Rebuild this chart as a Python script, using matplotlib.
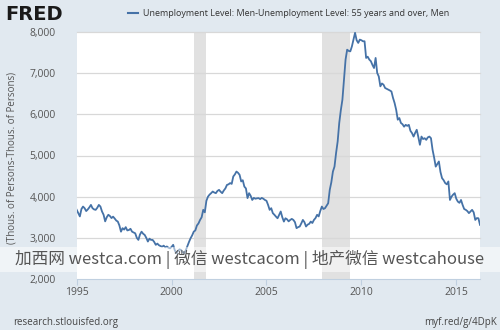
import matplotlib
matplotlib.use("Agg")
import matplotlib.pyplot as plt
import numpy as np

start_year = 1995
values = (
    [3680, 3600, 3520, 3700, 3760, 3720, 3650, 3690, 3740, 3800, 3720, 3690] +  # 1995
    [3680, 3730, 3800, 3760, 3640, 3560, 3400, 3500, 3560, 3530, 3480, 3515] +  # 1996
    [3470, 3420, 3395, 3300, 3150, 3235, 3200, 3260, 3180, 3190, 3220, 3150] +  # 1997
    [3130, 3110, 3000, 2950, 3080, 3150, 3100, 3070, 3000, 2910, 2980, 2950] +  # 1998
    [2950, 2900, 2830, 2860, 2820, 2800, 2785, 2810, 2770, 2790, 2760, 2745] +  # 1999
    [2780, 2830, 2700, 2625, 2680, 2720, 2705, 2650, 2625, 2700, 2800, 2900] +  # 2000
    [2990, 3060, 3150, 3180, 3300, 3350, 3435, 3500, 3680, 3620, 3900, 4000] +  # 2001
    [4050, 4085, 4125, 4100, 4085, 4140, 4165, 4120, 4085, 4150, 4200, 4285] +  # 2002
    [4300, 4330, 4310, 4490, 4540, 4610, 4580, 4530, 4370, 4400, 4245, 4200] +  # 2003
    [3965, 4085, 4020, 3920, 3970, 3950, 3960, 3965, 3940, 3970, 3950, 3920] +  # 2004
    [3900, 3800, 3680, 3720, 3600, 3560, 3515, 3475, 3560, 3640, 3500, 3395] +  # 2005
    [3475, 3450, 3400, 3435, 3460, 3435, 3380, 3235, 3260, 3275, 3350, 3435] +  # 2006
    [3380, 3275, 3320, 3340, 3395, 3360, 3435, 3480, 3560, 3520, 3650, 3760] +  # 2007
    [3700, 3720, 3780, 3840, 4165, 4350, 4610, 4730, 5060, 5340, 5790, 6100] +  # 2008
    [6355, 6840, 7330, 7570, 7540, 7530, 7650, 7815, 7980, 7800, 7735, 7815] +  # 2009
    [7800, 7775, 7775, 7370, 7400, 7330, 7290, 7200, 7125, 7370, 7005, 6920] +  # 2010
    [6680, 6750, 6720, 6640, 6620, 6600, 6580, 6555, 6400, 6275, 6110, 5870] +  # 2011
    [5910, 5790, 5760, 5700, 5745, 5720, 5745, 5600, 5545, 5460, 5550, 5625] +  # 2012
    [5450, 5260, 5460, 5400, 5420, 5380, 5440, 5460, 5420, 5140, 4950, 4730] +  # 2013
    [4790, 4855, 4600, 4450, 4400, 4330, 4300, 4370, 3920, 4000, 4050, 4085] +  # 2014
    [3950, 3880, 3850, 3920, 3800, 3700, 3680, 3650, 3600, 3640, 3680, 3620] +  # 2015
    [3435, 3480, 3475, 3315]                                                    # 2016
)
recessions = [(2001 + 2/12, 2001 + 10/12), (2007 + 11/12, 2009 + 5/12)]
xticks = [1995, 2000, 2005, 2010, 2015]
yticks = [2000, 3000, 4000, 5000, 6000, 7000, 8000]
title = "Unemployment Level: Men-Unemployment Level: 55 years and over, Men"
ylabel = "(Thous. of Persons-Thous. of Persons)"
watermark = "加西网 westca.com | 微信 westcacom | 地产微信 westcahouse"

dates = start_year + np.arange(len(values)) / 12.0

bg = "#e1e9f0"
fig = plt.figure(figsize=(5, 3.3), dpi=100, facecolor=bg)
ax = fig.add_axes([76.7/500, 1-279/330, (480-76.7)/500, (279-32)/330])
ax.set_facecolor("white")

for a, b in recessions:
    ax.axvspan(a, b, color="#e1e1e1", lw=0, zorder=1)
for y in yticks[1:]:
    ax.axhline(y, color="#d8d8d8", lw=0.9, zorder=1.5, clip_on=False)

ax.plot(dates, values, color="#4572a7", lw=1.3, zorder=3)
ax.set_xlim(dates[0], dates[-1])
ax.set_ylim(2000, 8000)
ax.set_xticks(xticks)
ax.set_yticks(yticks)
ax.set_yticklabels([f"{v:,}" for v in yticks])
for s in ["top", "right", "left"]:
    ax.spines[s].set_visible(False)
ax.spines["bottom"].set_color("#c0d0e0")
ax.tick_params(axis="y", length=0, pad=15, labelsize=7.5, labelcolor="#555555")
ax.tick_params(axis="x", length=4, color="#c0d0e0", pad=2, labelsize=7.5, labelcolor="#555555")
for lbl in ax.get_xticklabels() + ax.get_yticklabels():
    lbl.set_family("Open Sans")

fig.text(12/500, 1-158/330, ylabel, rotation=90, ha="center", va="center",
         fontsize=7, color="#555555", family="Open Sans")

# header
fig.text(5/500, 1-14/330, "FRED", fontsize=14, fontweight="bold", color="#1a1a1a",
         ha="left", va="center", family="DejaVu Sans")
fig.add_artist(plt.Line2D([128/500, 138/500], [1-13/330, 1-13/330], color="#4572a7", lw=1.5))
fig.text(143/500, 1-13/330, title, fontsize=6.5, color="#333333", ha="left", va="center",
         family="Open Sans")

# footer
fig.text(13/500, 1-323/330, "research.stlouisfed.org", fontsize=7, color="#444444",
         ha="left", va="center", family="Open Sans")
fig.text(497/500, 1-323/330, "myf.red/g/4DpK", fontsize=7, color="#444444",
         ha="right", va="center", family="Open Sans")

# watermark band
fig.add_artist(plt.Rectangle((0, 1-272/330), 1, 25/330, transform=fig.transFigure,
                             facecolor="white", alpha=0.5, lw=0, zorder=5))
fig.text(250/500, 1-259/330, watermark, fontsize=12, color="#555555", ha="center", va="center",
         family=["Noto Sans CJK SC", "DejaVu Sans"], zorder=6)

fig.savefig("out.png", dpi=100, facecolor=bg)
